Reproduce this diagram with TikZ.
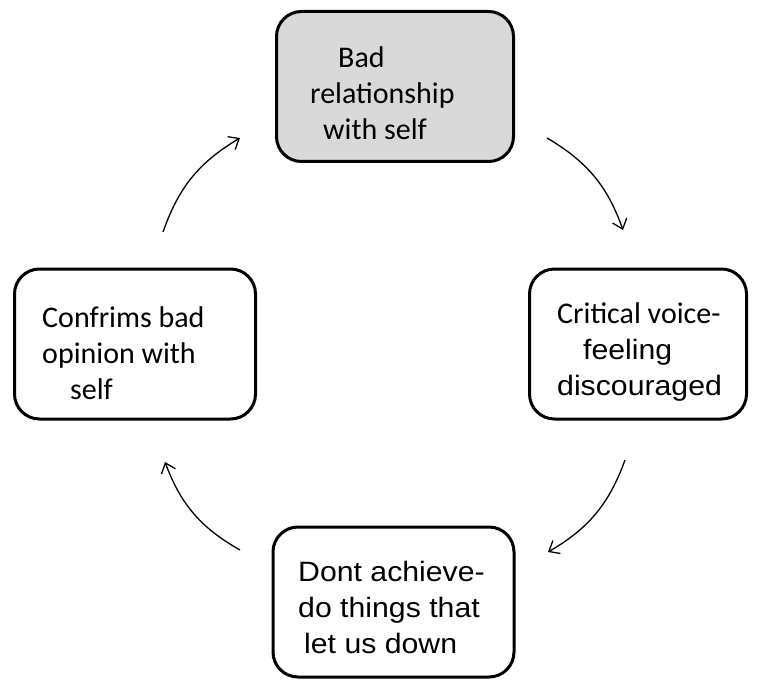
\documentclass[tikz,border=0pt]{standalone}
\usepackage{fontspec}
\setmainfont{Carlito}
\newfontfamily\arialfont[FakeStretch=1.08]{Liberation Sans}
\newcommand\arl{\arialfont\fontsize{28}{36}\selectfont}
\usetikzlibrary{arrows.meta}
\definecolor{boxgray}{HTML}{D9D9D9}
\tikzset{
  cyclebox/.style = {draw=black, line width=3pt, rounded corners=25pt,
    minimum width=#1, minimum height=150pt, inner sep=0pt},
  cycletxt/.style = {anchor=base west, align=left, inner sep=0pt,
    font=\fontsize{30}{36}\selectfont},% text of a box, last baseline
  cyclearrow/.style = {line width=1.3pt,
    -{Straight Barb[length=9pt,width=15pt]}, bend left=20}
}
\begin{document}
\begin{tikzpicture}[x=1pt,y=-1pt]
\useasboundingbox (0,0) rectangle (763,682);
% boxes
\node[cyclebox=237pt, fill=boxgray] (self) at (395,86.5) {};
\node[cyclebox=217pt] (critical) at (638,344) {};
\node[cyclebox=241pt] (achieve) at (393.5,602) {};
\node[cyclebox=241pt] (confirms) at (135,344) {};
% texts
\node[cycletxt] (self-txt) at (310,140)
  {\hspace*{28pt}Bad\\relationship\\\hspace*{13pt}with self};
\node[cycletxt] (critical-txt) at (557,395)
  {Critical voice-\\\hspace*{26pt}{\arl feeling}\\{\arl discouraged}};
\node[cycletxt, font=\arl] (achieve-txt) at (298,653)
  {Dont achieve-\\do things that\\\hspace*{6pt}let us down};
\node[cycletxt] (confirms-txt) at (42,399)
  {Confrims bad\\opinion with\\\hspace*{28pt}self};
% arrows
\coordinate (a1s) at (547,138); \coordinate (a1e) at (623,230);
\coordinate (a2s) at (625,460); \coordinate (a2e) at (548,552);
\coordinate (a3s) at (240,550); \coordinate (a3e) at (165,462);
\coordinate (a4s) at (163,232); \coordinate (a4e) at (240,138);
\draw[cyclearrow] (a1s) to (a1e);
\draw[cyclearrow] (a2s) to (a2e);
\draw[cyclearrow] (a3s) to (a3e);
\draw[cyclearrow] (a4s) to (a4e);
\end{tikzpicture}
\end{document}
